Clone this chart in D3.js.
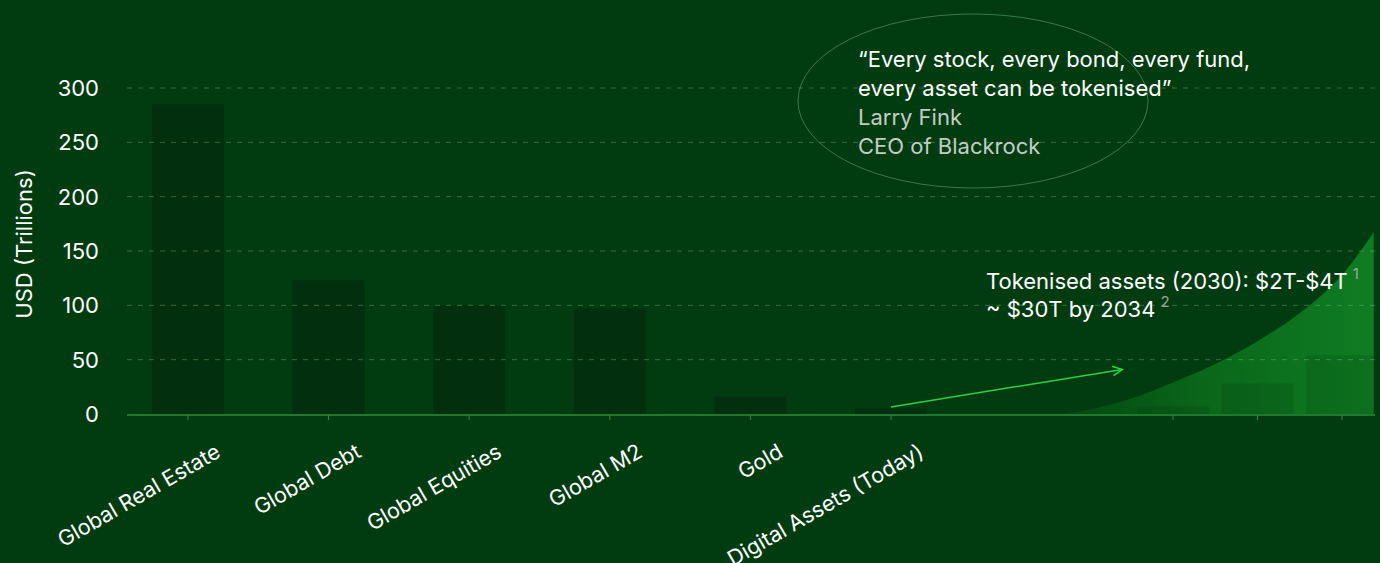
<!DOCTYPE html>
<html>
<head>
<meta charset="utf-8">
<script src="https://cdn.jsdelivr.net/npm/d3@7"></script>
<style>
  html, body { margin: 0; padding: 0; background: #013c11; }
  svg { display: block; font-family: Inter, "Noto Sans", sans-serif; }
</style>
</head>
<body>
<div id="chart"></div>
<script>
// asset classes today
const categories = ["Global Real Estate", "Global Debt", "Global Equities", "Global M2", "Gold", "Digital Assets (Today)"];
const values = [285, 123, 100, 97, 16, 5];
const yTicks = [0, 50, 100, 150, 200, 250, 300];

// tokenisation projection (right side)
const projYears = [2030, 2032, 2034];
const projValues = [7, 28, 54];
const curveYears = [2027.3, 2028, 2029, 2030, 2031, 2032, 2033, 2034, 2034.75];
const curveValues = [0, 4, 14, 29, 46, 67, 93, 128, 167];

// arrow from today's digital assets towards the projection
const arrowFrom = {cat: "Digital Assets (Today)", value: 6.5};
const arrowTo = {year: 2028.8, value: 41};

const quoteLines = ["\u201cEvery stock, every bond, every fund,", "every asset can be tokenised\u201d"];
const authorLines = ["Larry Fink", "CEO of Blackrock"];
const noteLines = [
    {text: "Tokenised assets (2030): $2T-$4T", sup: "1"},
    {text: "~ $30T by 2034", sup: "2"}
];

const W = 1380, H = 563;
const left = 127, right = 1375;

const svg = d3.select("#chart")
    .append("svg")
    .attr("width", W)
    .attr("height", H);

svg.append("rect")
    .attr("width", W)
    .attr("height", H)
    .attr("fill", "#013c11");

let yScale = d3.scaleLinear()
    .domain([0, 300])
    .range([414, 88]);

let xScale = d3.scaleBand()
    .domain(categories)
    .range([129, 950])
    .paddingInner(0.488)
    .paddingOuter(0.163);

let projX = d3.scaleLinear()
    .domain([2030, 2034])
    .range([1173, 1342]);

const defs = svg.append("defs");

let grad = defs.append("linearGradient")
    .attr("id", "areaGrad")
    .attr("gradientUnits", "userSpaceOnUse")
    .attr("x1", projX(curveYears[0]))
    .attr("x2", projX(curveYears[curveYears.length - 1]))
    .attr("y1", 0).attr("y2", 0);
grad.append("stop").attr("offset", 0).attr("stop-color", "#03460f");
grad.append("stop").attr("offset", 0.45).attr("stop-color", "#0a661a");
grad.append("stop").attr("offset", 1).attr("stop-color", "#0f7d23");

defs.append("marker")
    .attr("id", "arrowHead")
    .attr("viewBox", "0 0 10 10")
    .attr("refX", 9).attr("refY", 5)
    .attr("markerWidth", 8).attr("markerHeight", 8)
    .attr("orient", "auto")
    .append("path")
    .attr("d", "M1,1 L9,5 L1,9")
    .attr("fill", "none")
    .attr("stroke", "#2fcf48")
    .attr("stroke-width", 1.3);

// projection area
let curve = curveYears.map((yr, i) => ({year: yr, value: curveValues[i]}));
let area = d3.area()
    .x(d => projX(d.year))
    .y0(yScale(0))
    .y1(d => yScale(d.value))
    .curve(d3.curveMonotoneX);

svg.append("path")
    .datum(curve)
    .attr("d", area)
    .attr("fill", "url(#areaGrad)");

// projected bars
svg.append("g")
    .selectAll("rect")
    .data(projYears)
    .join("rect")
    .attr("x", (d) => projX(d) - xScale.bandwidth() / 2)
    .attr("width", xScale.bandwidth())
    .attr("y", (d, i) => yScale(projValues[i]))
    .attr("height", (d, i) => yScale(0) - yScale(projValues[i]))
    .attr("fill", "rgba(0,30,5,0.13)");

// bars
svg.append("g")
    .selectAll("rect")
    .data(categories)
    .join("rect")
    .attr("x", d => xScale(d))
    .attr("width", xScale.bandwidth())
    .attr("y", (d, i) => yScale(values[i]))
    .attr("height", (d, i) => yScale(0) - yScale(values[i]))
    .attr("fill", "#022f0d");

// gridlines
svg.append("g")
    .selectAll("line")
    .data(yTicks.filter(d => d > 0))
    .join("line")
    .attr("x1", left).attr("x2", right)
    .attr("y1", d => yScale(d)).attr("y2", d => yScale(d))
    .attr("stroke", "rgba(120,200,130,0.38)")
    .attr("stroke-width", 1)
    .attr("stroke-dasharray", "5,6");

// y labels
svg.append("g")
    .selectAll("text")
    .data(yTicks)
    .join("text")
    .attr("x", 99)
    .attr("y", d => yScale(d))
    .attr("dy", "0.36em")
    .attr("text-anchor", "end")
    .attr("fill", "#ffffff")
    .style("font-size", "22px")
    .text(d => d);

svg.append("text")
    .attr("transform", "translate(32,244) rotate(-90)")
    .attr("text-anchor", "middle")
    .attr("fill", "#ffffff")
    .style("font-size", "22px")
    .text("USD (Trillions)");

// x axis
svg.append("line")
    .attr("x1", left).attr("x2", right)
    .attr("y1", yScale(0) + 1).attr("y2", yScale(0) + 1)
    .attr("stroke", "#2c8a3b")
    .attr("stroke-width", 1.5);

let tickXs = categories.map(d => xScale(d) + xScale.bandwidth() / 2)
    .concat(projYears.map(d => projX(d)));

svg.append("g")
    .selectAll("line")
    .data(tickXs)
    .join("line")
    .attr("x1", d => d).attr("x2", d => d)
    .attr("y1", yScale(0) + 1).attr("y2", yScale(0) + 6)
    .attr("stroke", "#2c8a3b")
    .attr("stroke-width", 1);

svg.append("g")
    .selectAll("text")
    .data(categories)
    .join("text")
    .attr("transform", d => `translate(${xScale(d) + xScale.bandwidth() / 2 + 34},${yScale(0) + 42}) rotate(-30)`)
    .attr("text-anchor", "end")
    .attr("fill", "#ffffff")
    .style("font-size", "21.5px")
    .text(d => d);

// arrow
svg.append("line")
    .attr("x1", xScale(arrowFrom.cat) + xScale.bandwidth() / 2)
    .attr("y1", yScale(arrowFrom.value))
    .attr("x2", projX(arrowTo.year))
    .attr("y2", yScale(arrowTo.value))
    .attr("stroke", "#2fcf48")
    .attr("stroke-width", 1.5)
    .attr("marker-end", "url(#arrowHead)");

// note
let note = svg.append("g");
noteLines.forEach((l, i) => {
    let t = note.append("text")
        .attr("x", 986)
        .attr("y", 289 + i * 28)
        .attr("fill", "#ffffff")
        .style("font-size", "22px");
    t.append("tspan").text(l.text);
    t.append("tspan")
        .attr("dx", 5)
        .attr("dy", -10)
        .attr("fill", "#9aa89c")
        .style("font-size", "15px")
        .text(l.sup);
});

// quote
svg.append("ellipse")
    .attr("cx", 973).attr("cy", 101)
    .attr("rx", 175).attr("ry", 87)
    .attr("fill", "none")
    .attr("stroke", "rgba(120,200,130,0.45)")
    .attr("stroke-width", 1);

quoteLines.concat(authorLines).forEach((l, i) => {
    svg.append("text")
        .attr("x", 858)
        .attr("y", 67 + i * 29)
        .attr("fill", i < quoteLines.length ? "#ffffff" : "#c4ccc5")
        .style("font-size", "22px")
        .text(l);
});
</script>
</body>
</html>
